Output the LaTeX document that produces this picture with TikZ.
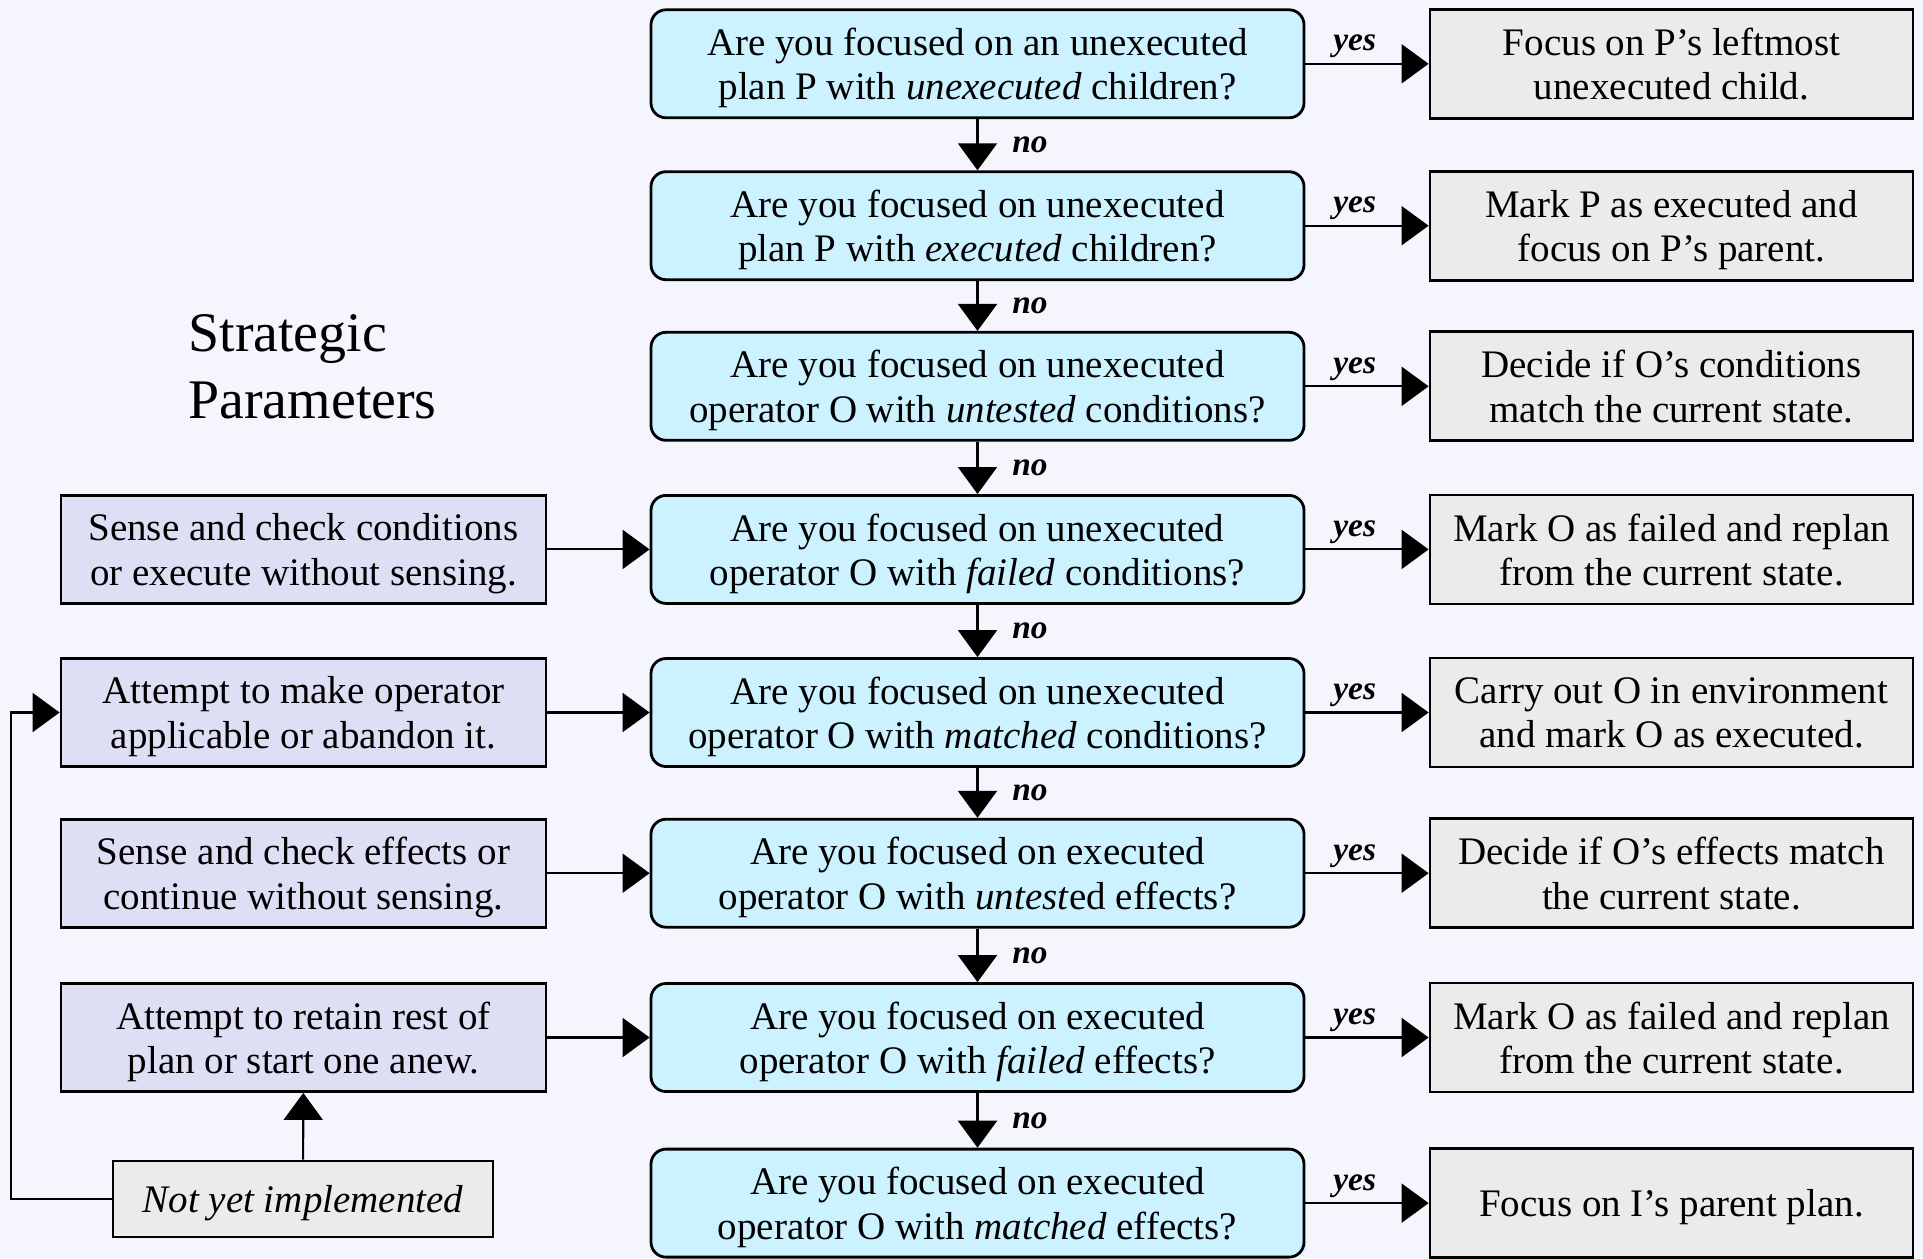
\documentclass[tikz,border=0pt]{standalone}
\usepackage{fontspec}
\setmainfont{Liberation Serif}
\usepackage{tikz}
\usetikzlibrary{arrows.meta}

\definecolor{bgpage}{HTML}{F5F5FE}
\definecolor{askfill}{HTML}{CCF2FF}
\definecolor{stratfill}{HTML}{DEDEF5}
\definecolor{actfill}{HTML}{EBEBEB}

\begin{document}
\begin{tikzpicture}[
	font = \fontsize{11.1}{12.6}\selectfont,
	ask/.style = {draw, line width=0.8pt, rounded corners=1.5mm, fill=askfill, align=center, minimum width=6.53cm, minimum height=1.08cm, inner sep=0pt, text depth=0pt},
	act/.style = {draw, line width=0.8pt, fill=actfill, align=center, minimum width=4.83cm, minimum height=1.09cm, inner sep=0pt, text depth=0pt},
	strat/.style = {draw, line width=0.8pt, fill=stratfill, align=center, minimum width=4.85cm, minimum height=1.08cm, inner sep=0pt, text depth=0pt},
	link/.style = {line width=0.6pt, -{Triangle[length=2.7mm, width=3.9mm]}},
	ans/.style = {font=\fontsize{9.5}{11}\selectfont\bfseries\itshape}
]
	\fill[bgpage] (0,0) rectangle (19.23,-12.58);
	\useasboundingbox (0,0) rectangle (19.23,-12.58);

	% questions
	\node[ask] (q1) at (9.775,-0.638) {Are you focused on an unexecuted\\plan P with \emph{unexecuted} children?};
	\node[ask] (q2) at (9.775,-2.257) {Are you focused on unexecuted\\plan P with \emph{executed} children?};
	\node[ask] (q3) at (9.775,-3.863) {Are you focused on unexecuted\\operator O with \emph{untested} conditions?};
	\node[ask] (q4) at (9.775,-5.494) {Are you focused on unexecuted\\operator O with \emph{failed} conditions?};
	\node[ask] (q5) at (9.775,-7.125) {Are you focused on unexecuted\\operator O with \emph{matched} conditions?};
	\node[ask] (q6) at (9.775,-8.732) {Are you focused on executed\\operator O with \emph{untest}ed effects?};
	\node[ask] (q7) at (9.775,-10.375) {Are you focused on executed\\operator O with \emph{failed} effects?};
	\node[ask] (q8) at (9.775,-12.031) {Are you focused on executed\\operator O with \emph{matched} effects?};

	% actions
	\node[act] (a1) at (16.715,-0.638) {Focus on P’s leftmost\\unexecuted child.};
	\node[act] (a2) at (16.715,-2.257) {Mark P as executed and\\focus on P’s parent.};
	\node[act] (a3) at (16.715,-3.863) {Decide if O’s conditions\\match the current state.};
	\node[act] (a4) at (16.715,-5.494) {Mark O as failed and replan\\from the current state.};
	\node[act] (a5) at (16.715,-7.125) {Carry out O in environment\\and mark O as executed.};
	\node[act] (a6) at (16.715,-8.732) {Decide if O’s effects match\\the current state.};
	\node[act] (a7) at (16.715,-10.375) {Mark O as failed and replan\\from the current state.};
	\node[act] (a8) at (16.715,-12.031) {Focus on I’s parent plan.};

	% strategic parameters
	\node[anchor=west, align=left, font=\fontsize{15.9}{19}\selectfont] (title) at (1.76,-3.67) {Strategic\\Parameters};
	\node[strat] (s4) at (3.035,-5.494) {Sense and check conditions\\or execute without sensing.};
	\node[strat] (s5) at (3.035,-7.125) {Attempt to make operator\\applicable or abandon it.};
	\node[strat] (s6) at (3.035,-8.732) {Sense and check effects or\\continue without sensing.};
	\node[strat] (s7) at (3.035,-10.375) {Attempt to retain rest of\\plan or start one anew.};
	\node[act, minimum width=3.8cm, minimum height=0.76cm] (ny) at (3.03,-11.99) {\emph{Not yet implemented}};

	\draw[link] (q1) -- (q2) node[midway, right=2.2mm, ans] {no};
	\draw[link] (q2) -- (q3) node[midway, right=2.2mm, ans] {no};
	\draw[link] (q3) -- (q4) node[midway, right=2.2mm, ans] {no};
	\draw[link] (q4) -- (q5) node[midway, right=2.2mm, ans] {no};
	\draw[link] (q5) -- (q6) node[midway, right=2.2mm, ans] {no};
	\draw[link] (q6) -- (q7) node[midway, right=2.2mm, ans] {no};
	\draw[link] (q7) -- (q8) node[midway, right=2.2mm, ans] {no};

	\draw[link] (q1) -- (a1) node[pos=0.4, above=-0.7mm, ans] {yes};
	\draw[link] (q2) -- (a2) node[pos=0.4, above=-0.7mm, ans] {yes};
	\draw[link] (q3) -- (a3) node[pos=0.4, above=-0.7mm, ans] {yes};
	\draw[link] (q4) -- (a4) node[pos=0.4, above=-0.7mm, ans] {yes};
	\draw[link] (q5) -- (a5) node[pos=0.4, above=-0.7mm, ans] {yes};
	\draw[link] (q6) -- (a6) node[pos=0.4, above=-0.7mm, ans] {yes};
	\draw[link] (q7) -- (a7) node[pos=0.4, above=-0.7mm, ans] {yes};
	\draw[link] (q8) -- (a8) node[pos=0.4, above=-0.7mm, ans] {yes};

	\draw[link] (s4) -- (q4);
	\draw[link] (s5) -- (q5);
	\draw[link] (s6) -- (q6);
	\draw[link] (s7) -- (q7);
	\draw[link] (ny) -- (s7);
	\draw[link] (ny.west) -- ++(-1.01,0) |- (s5.west);
\end{tikzpicture}
\end{document}
